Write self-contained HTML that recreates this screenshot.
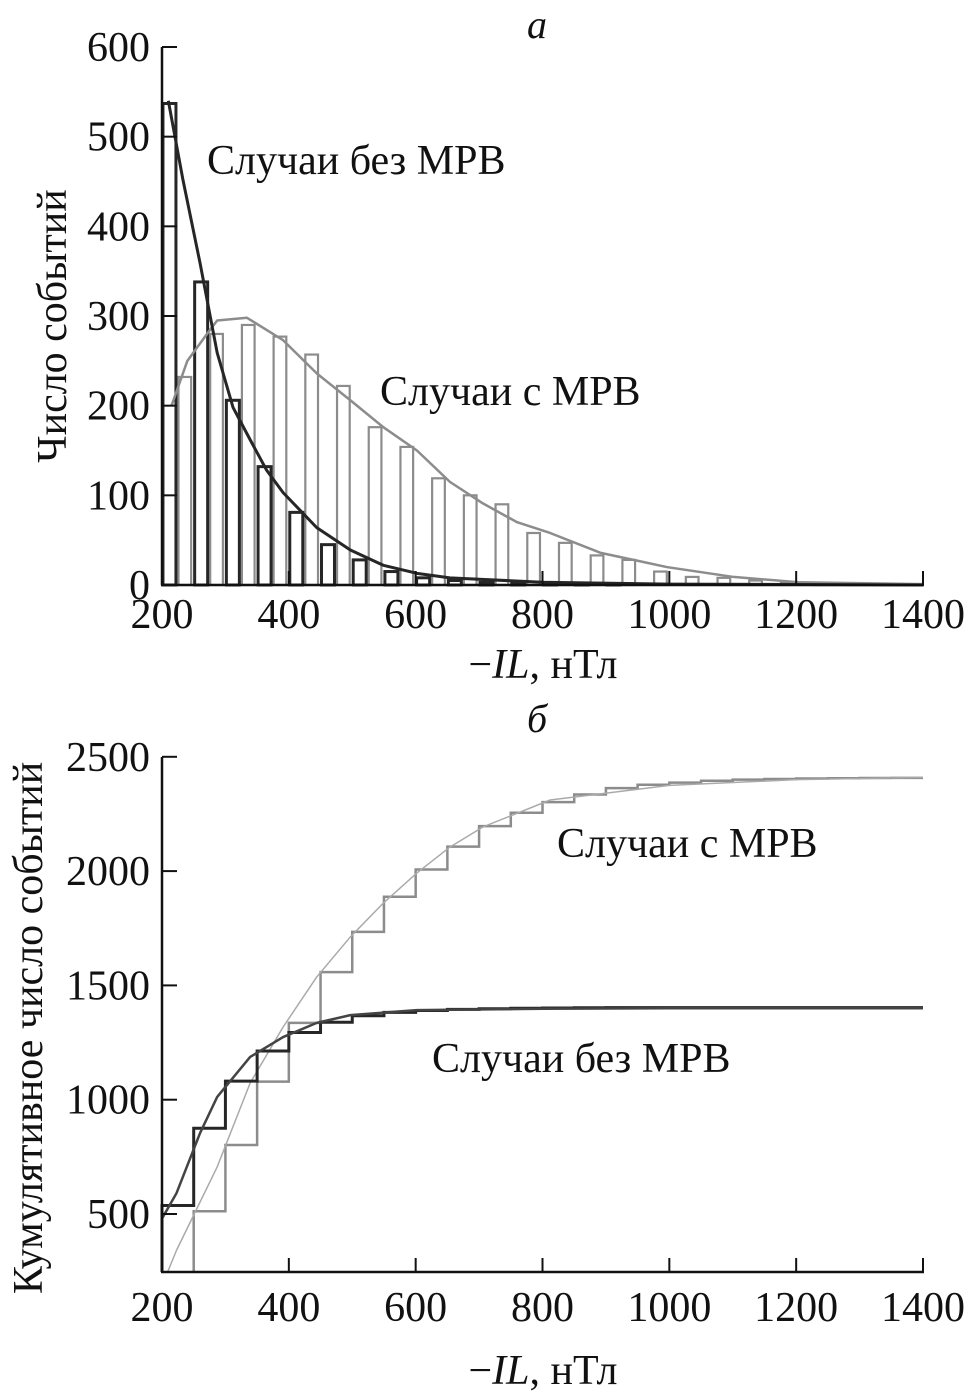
<!DOCTYPE html>
<html><head><meta charset="utf-8"><style>
html,body{margin:0;padding:0;background:#fff}
svg{display:block}
text{font-family:"Liberation Serif","DejaVu Serif",serif;fill:#111}
</style></head><body>
<svg id="chart" width="968" height="1397" viewBox="0 0 968 1397" xmlns="http://www.w3.org/2000/svg">
<defs><clipPath id="clipB"><rect x="150" y="740" width="800" height="532"/></clipPath></defs>
</svg>
<script>
const binStarts=[200,250,300,350,400,450,500,550,600,650,700,750,800,850,900,950,1000,1050,1100,1150,1200,1250,1300,1350];
const noMpbCounts=[537,338,206,132,81,45,28,15,8,5,3,2,1,1,1,0,0,0,0,0,0,0,0,0];
const mpbCounts=[232,280,290,277,257,222,176,154,119,100,90,58,47,33,28,15,9,8,5,3,2,1,1,1];
const noMpbFitX=[210,233,260,287,312,339,365,391,444,497,549,602,654,800,1000,1400];
const noMpbFitY=[540,452,359,259,198,162,128,103,64,39,22,13,8,3,1,0];
const mpbFitX=[215,240,272,287,334,391,444,497,549,602,654,706,760,812,891,996,1101,1206,1400];
const mpbFitY=[200,250,281,295,298,273,236,206,176,150,115,91,70,58,36,20,9,3,1];
const cumNoFitX=[200,223,260,287,339,391,444,497,602,800,1000,1400];
const cumNoFitY=[480,592,854,1012,1187,1274,1336,1370,1392,1398,1400,1400];
const cumMpbFitX=[205,223,287,339,391,444,497,549,602,654,706,812,1000,1200,1400];
const cumMpbFitY=[220,342,706,1073,1318,1537,1712,1860,1992,2105,2193,2311,2375,2400,2410];
const xTicks=[200,400,600,800,1000,1200,1400];
const yTicksA=[0,100,200,300,400,500,600];
const yTicksB=[500,1000,1500,2000,2500];

const NS="http://www.w3.org/2000/svg";
const svg=document.getElementById('chart');
function el(tag,attrs,parent){const e=document.createElementNS(NS,tag);for(const k in attrs)e.setAttribute(k,attrs[k]);(parent||svg).appendChild(e);return e;}
const X=v=>162+(v-200)*(761/1200);
const YA=v=>585-v*(538/600);
const YB=v=>1214-(v-500)*(114.3/500);
const DARK="#262626",GREY="#8c8c8c";
const FS=42;

// ---- Panel a ----
const gA=el('g',{});


binStarts.forEach((b,i)=>{
  const v=mpbCounts[i];
  if(v>0){const r=el('rect',{x:X(b+26),y:YA(v),width:X(b+46)-X(b+26),height:YA(0)-YA(v),fill:'none',stroke:GREY,'stroke-width':2.2},gA);
  
  }
});
binStarts.forEach((b,i)=>{
  const v=noMpbCounts[i];
  if(v>0){const r=el('rect',{x:X(b+1.5),y:YA(v),width:X(b+22)-X(b+1.5),height:YA(0)-YA(v),fill:'none',stroke:DARK,'stroke-width':3},gA);
  
  }
});
function poly(xs,ys,Y,stroke,w,g,name){
  const p=el('polyline',{points:xs.map((x,i)=>X(x)+','+Y(ys[i])).join(' '),fill:'none',stroke:stroke,'stroke-width':w,'stroke-linejoin':'round'},g);
  
  
}
poly(mpbFitX,mpbFitY,YA,GREY,2.5,gA,'fit-curve-mpb');
poly(noMpbFitX,noMpbFitY,YA,DARK,3,gA,'fit-curve-no-mpb');

function axes(g,Y,yTicks,top,bottom,xLabY,titleY){
  el('line',{x1:162,y1:top,x2:162,y2:bottom,stroke:'#111','stroke-width':2.5},g);
  el('line',{x1:161,y1:bottom,x2:924,y2:bottom,stroke:'#111','stroke-width':2.5},g);
  yTicks.forEach(v=>{
    el('line',{x1:162,y1:Y(v),x2:177,y2:Y(v),stroke:'#111','stroke-width':2},g);
    const t=el('text',{x:150,y:Y(v)+14,'text-anchor':'end','font-size':FS},g);t.textContent=v;
    
    
  });
  xTicks.forEach(v=>{
    el('line',{x1:X(v),y1:bottom,x2:X(v),y2:bottom-14,stroke:'#111','stroke-width':2},g);
    const t=el('text',{x:X(v),y:xLabY,'text-anchor':'middle','font-size':FS},g);t.textContent=v;
    
    
  });
  const tt=el('text',{x:543,y:titleY,'text-anchor':'middle','font-size':FS},g);
  tt.innerHTML='&#8722;<tspan font-style="italic">IL</tspan>, нТл';
  
  
}
axes(gA,YA,yTicksA,47,585,628,678);
function label(g,x,y,s,size,name,extra){const t=el('text',Object.assign({x:x,y:y,'font-size':size},extra||{}),g);t.textContent=s;return t;}
label(gA,207,174,'Случаи без МРВ',FS,'label-no-mpb');
label(gA,380,405,'Случаи с МРВ',FS,'label-mpb');
label(gA,537,38,'a',40,'panel-label-a',{'font-style':'italic','text-anchor':'middle'});
label(gA,66,326,'Число событий',FS,'y-axis-title',{transform:'rotate(-90 66 326)','text-anchor':'middle'});

// ---- Panel б ----
const gB=el('g',{});


const gClip=el('g',{'clip-path':'url(#clipB)'},gB);
function steps(counts,stroke,w,name){
  let c=0,pts=[];
  binStarts.forEach((b,i)=>{c+=counts[i];pts.push(X(b)+','+YB(c));pts.push(X(b+50)+','+YB(c));});
  const p=el('polyline',{points:X(200)+','+YB(200)+' '+pts.join(' '),fill:'none',stroke:stroke,'stroke-width':w},gClip);
  
  
}
steps(mpbCounts,GREY,2.5,'cumulative-step-mpb');
poly(cumMpbFitX,cumMpbFitY,YB,'#aaa',1.5,gClip,'cumulative-fit-mpb');
steps(noMpbCounts,DARK,3,'cumulative-step-no-mpb');
poly(cumNoFitX,cumNoFitY,YB,'#444',2.5,gClip,'cumulative-fit-no-mpb');
axes(gB,YB,yTicksB,757,1272,1321,1384);
label(gB,557,857,'Случаи с МРВ',FS,'label-mpb-b');
label(gB,432,1072,'Случаи без МРВ',FS,'label-no-mpb-b');
label(gB,537,732,'б',40,'panel-label-b',{'font-style':'italic','text-anchor':'middle'});
label(gB,42,1028,'Кумулятивное число событий',FS,'y-axis-title-b',{transform:'rotate(-90 42 1028)','text-anchor':'middle'});
</script>
</body></html>
